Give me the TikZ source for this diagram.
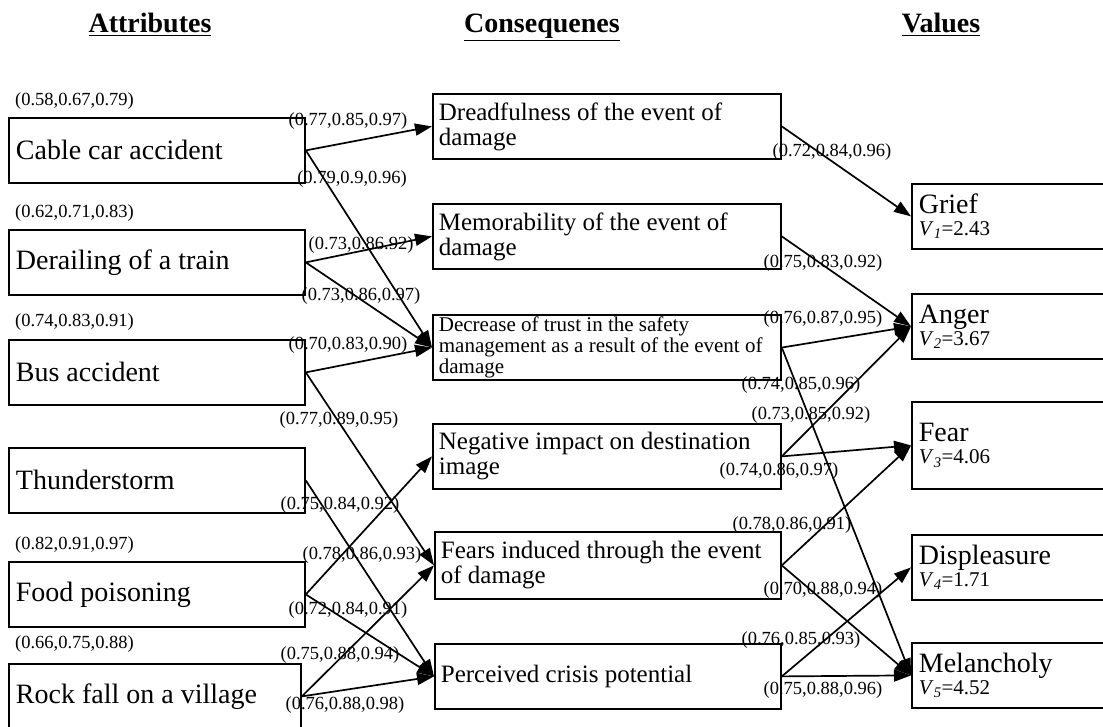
\documentclass[tikz,border=0pt]{standalone}
\usepackage{fontspec}
\setmainfont{Liberation Serif}
\usetikzlibrary{arrows.meta}
\begin{document}
\begin{tikzpicture}[x=1pt,y=-1pt,
  attrbox/.style={draw, line width=1.8pt, anchor=north west, minimum height=65pt, text width=282pt, inner xsep=7pt, align=flush left, font=\fontsize{28}{30}\selectfont},
  consbox/.style={draw, line width=1.8pt, anchor=north west, minimum height=65pt, text width=336pt, inner xsep=6pt, inner ysep=2pt, align=flush left, font=\fontsize{25}{25}\selectfont},
  valbox/.style={draw, line width=1.8pt, anchor=north west, minimum height=65pt, text width=236pt, inner xsep=7pt, inner ysep=2pt, align=flush left, font=\fontsize{28}{22}\selectfont},
  hdr/.style={anchor=base, font=\bfseries\fontsize{28}{30}\selectfont},
  wgt/.style={inner sep=0pt, font=\fontsize{18.5}{20}\selectfont},
  arr/.style={-{Triangle[length=17pt,width=12pt]}, line width=1.7pt}]
\useasboundingbox (0,0) rectangle (1103,727);
\clip (0,0) rectangle (1103,727);
\node[hdr] (hdrA) at (150,33) {\underline{Attributes}};
\node[hdr] (hdrC) at (542,33) {\underline{Consequenes}};
\node[hdr] (hdrV) at (941,33) {\underline{Values}};
\node[attrbox] (attr0) at (8,117) {Cable car accident};
\node[attrbox] (attr1) at (8,229) {Derailing of a train};
\node[attrbox] (attr2) at (8,339) {Bus accident};
\node[attrbox] (attr3) at (8,447) {Thunderstorm};
\node[attrbox] (attr4) at (8,561) {Food poisoning};
\node[attrbox, text width=278pt] (attr5) at (8,663) {Rock fall on a village};
\node[wgt, anchor=west] (wa0) at (15,101) {(0.58,0.67,0.79)};
\node[wgt, anchor=west] (wa1) at (15,213) {(0.62,0.71,0.83)};
\node[wgt, anchor=west] (wa2) at (15,322) {(0.74,0.83,0.91)};
\node[wgt, anchor=west] (wa4) at (15,545) {(0.82,0.91,0.97)};
\node[wgt, anchor=west] (wa5) at (15,644) {(0.66,0.75,0.88)};
\node[consbox] (cons0) at (432,93) {Dreadfulness of the event of\\damage};
\node[consbox] (cons1) at (432,203) {Memorability of the event of\\damage};
\node[consbox, font=\fontsize{21}{21}\selectfont] (cons2) at (432,314) {Decrease of trust in the safety\\management as a result of the event of\\damage};
\node[consbox] (cons3) at (432,423) {Negative impact on destination\\image};
\node[consbox, minimum height=67pt, text width=334pt] (cons4) at (434,531) {Fears induced through the event\\of damage};
\node[consbox, text width=334pt] (cons5) at (434,643) {Perceived crisis potential};
\node[valbox] (val0) at (911,183) {Grief\\{\fontsize{21}{21}\selectfont\textit{V}\textsubscript{\textit{1}}=2.43}};
\node[valbox] (val1) at (911,293) {Anger\\{\fontsize{21}{21}\selectfont\textit{V}\textsubscript{\textit{2}}=3.67}};
\node[valbox, minimum height=87pt] (val2) at (911,401) {Fear\\{\fontsize{21}{21}\selectfont\textit{V}\textsubscript{\textit{3}}=4.06}};
\node[valbox] (val3) at (911,534) {Displeasure\\{\fontsize{21}{21}\selectfont\textit{V}\textsubscript{\textit{4}}=1.71}};
\node[valbox] (val4) at (911,642) {Melancholy\\{\fontsize{21}{21}\selectfont\textit{V}\textsubscript{\textit{5}}=4.52}};
\draw[arr] (attr0.east) -- (cons0.west);
\draw[arr] (attr0.east) -- (cons2.west);
\draw[arr] (attr1.east) -- (cons1.west);
\draw[arr] (attr1.east) -- (cons2.west);
\draw[arr] (attr2.east) -- (cons2.west);
\draw[arr] (attr2.east) -- (cons4.west);
\draw[arr] (attr3.east) -- (cons5.west);
\draw[arr] (attr4.east) -- (cons3.west);
\draw[arr] (attr4.east) -- (cons5.west);
\draw[arr] (attr5.east) -- (cons4.west);
\draw[arr] (attr5.east) -- (cons5.west);
\draw[arr] (cons0.east) -- (val0.west);
\draw[arr] (cons1.east) -- (val1.west);
\draw[arr] (cons2.east) -- (val1.west);
\draw[arr] (cons2.east) -- (val4.west);
\draw[arr] (cons3.east) -- (val1.west);
\draw[arr] (cons3.east) -- (val2.west);
\draw[arr] (cons4.east) -- (val2.west);
\draw[arr] (cons4.east) -- (val4.west);
\draw[arr] (cons5.east) -- (val3.west);
\draw[arr] (cons5.east) -- (val4.west);
\node[wgt] (w00) at (348,121) {(0.77,0.85,0.97)};
\node[wgt] (w02) at (352,179) {(0.79,0.9,0.96)};
\node[wgt] (w11) at (361,245) {(0.73,0.86.92)};
\node[wgt] (w12) at (361,296) {(0.73,0.86,0.97)};
\node[wgt] (w22) at (348,345) {(0.70,0.83,0.90)};
\node[wgt] (w24) at (339,420) {(0.77,0.89,0.95)};
\node[wgt] (w35) at (340,505) {(0.75,0.84,0.92)};
\node[wgt] (w43) at (362,555) {(0.78,0.86,0.93)};
\node[wgt] (w45) at (348,610) {(0.72,0.84,0.91)};
\node[wgt] (w54) at (340,655) {(0.75,0.88,0.94)};
\node[wgt] (w55) at (345,705) {(0.76,0.88,0.98)};
\node[wgt] (v00) at (832,152) {(0.72,0.84,0.96)};
\node[wgt] (v11) at (823,263) {(0.75,0.83,0.92)};
\node[wgt] (v21) at (823,319) {(0.76,0.87,0.95)};
\node[wgt] (v24) at (801,385) {(0.74,0.85,0.96)};
\node[wgt] (v31) at (811,415) {(0.73,0.85,0.92)};
\node[wgt] (v32) at (779,471) {(0.74,0.86,0.97)};
\node[wgt] (v42) at (792,525) {(0.78,0.86,0.91)};
\node[wgt] (v44) at (823,590) {(0.70,0.88,0.94)};
\node[wgt] (v53) at (801,640) {(0.76,0.85,0.93)};
\node[wgt] (v54) at (823,690) {(0.75,0.88,0.96)};
\end{tikzpicture}
\end{document}
